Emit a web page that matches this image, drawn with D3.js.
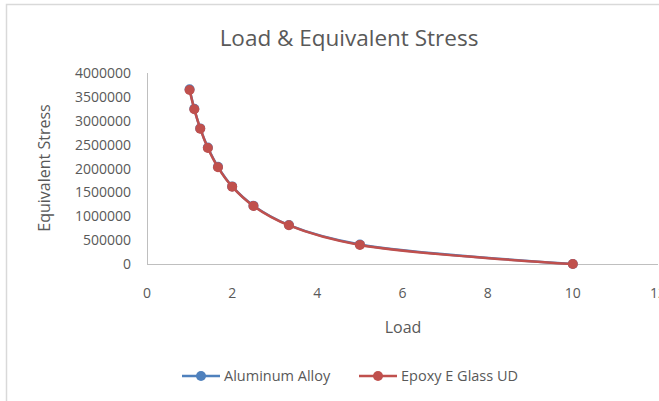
<!DOCTYPE html>
<html>
<head>
<meta charset="utf-8">
<script src="https://cdn.jsdelivr.net/npm/d3@7"></script>
<style>
  body { margin: 0; background: #fff; }
  text { font-family: "Open Sans", "Liberation Sans", sans-serif; fill: #595959; }
</style>
</head>
<body>
<svg id="chart" width="659" height="401"></svg>
<script>
// chart data
const load = [1, 1.111, 1.25, 1.429, 1.667, 2, 2.5, 3.333, 5, 10];
const aluminumStress = [3660000, 3250000, 2840000, 2440000, 2035000, 1625000, 1222000, 815000, 410000, 0];
const epoxyStress = [3645000, 3240000, 2835000, 2430000, 2025000, 1620000, 1215000, 810000, 400000, 0];
const seriesNames = ['Aluminum Alloy', 'Epoxy E Glass UD'];
const xTicks = [0, 2, 4, 6, 8, 10, 12];
const yTicks = [0, 500000, 1000000, 1500000, 2000000, 2500000, 3000000, 3500000, 4000000];

const colors = ['#4F81BD', '#C0504D'];

const svg = d3.select('#chart');

// chart frame (left/top edges visible)
svg.append('path')
  .attr('d', 'M6.5,401 V4.5 H659')
  .attr('fill', 'none')
  .attr('stroke', '#d9d9d9')
  .attr('stroke-width', 1.5);

const x = d3.scaleLinear().domain([0, 12]).range([147, 658]);
const y = d3.scaleLinear().domain([0, 4000000]).range([264, 73]);

// axis lines
svg.append('line')
  .attr('x1', x(0)).attr('x2', x(12))
  .attr('y1', y(0) + 0.5).attr('y2', y(0) + 0.5)
  .attr('stroke', '#bfbfbf');
svg.append('line')
  .attr('x1', x(0) + 0.5).attr('x2', x(0) + 0.5)
  .attr('y1', y(4000000)).attr('y2', y(0))
  .attr('stroke', '#bfbfbf');

// tick labels (last one runs off the edge like the original)
svg.selectAll('.xtick')
  .data(xTicks)
  .enter().append('text')
  .attr('x', d => x(d))
  .attr('y', 298)
  .attr('text-anchor', 'middle')
  .attr('font-size', 14)
  .text(d => d);

svg.selectAll('.ytick')
  .data(yTicks)
  .enter().append('text')
  .attr('x', 131)
  .attr('y', d => y(d) + 5)
  .attr('text-anchor', 'end')
  .attr('font-size', 14)
  .text(d => d);

// titles
svg.append('text')
  .attr('x', 349)
  .attr('y', 46)
  .attr('text-anchor', 'middle')
  .attr('font-size', 22.5)
  .text('Load & Equivalent Stress');

svg.append('text')
  .attr('x', 403)
  .attr('y', 333)
  .attr('text-anchor', 'middle')
  .attr('font-size', 16)
  .text('Load');

svg.append('text')
  .attr('transform', 'translate(50,168) rotate(-90)')
  .attr('text-anchor', 'middle')
  .attr('font-size', 16)
  .text('Equivalent Stress');

// series
const line = d3.line()
  .x(d => x(d[0]))
  .y(d => y(d[1]))
  .curve(d3.curveCatmullRom);

[aluminumStress, epoxyStress].forEach((vals, i) => {
  const pts = load.map((l, j) => [l, vals[j]]);
  svg.append('path')
    .attr('d', line(pts))
    .attr('fill', 'none')
    .attr('stroke', colors[i])
    .attr('stroke-width', 2.5);
  svg.selectAll('.m' + i)
    .data(pts)
    .enter().append('circle')
    .attr('cx', d => x(d[0]))
    .attr('cy', d => y(d[1]))
    .attr('r', 5)
    .attr('fill', colors[i]);
});

// legend
const legendX = [182, 359];
seriesNames.forEach((name, i) => {
  const g = svg.append('g').attr('transform', `translate(${legendX[i]},376)`);
  g.append('line')
    .attr('x1', 0).attr('x2', 38)
    .attr('stroke', colors[i])
    .attr('stroke-width', 2.5);
  g.append('circle')
    .attr('cx', 19)
    .attr('r', 5)
    .attr('fill', colors[i]);
  g.append('text')
    .attr('x', 42)
    .attr('y', 5)
    .attr('font-size', 14.5)
    .text(name);
});
</script>
</body>
</html>
